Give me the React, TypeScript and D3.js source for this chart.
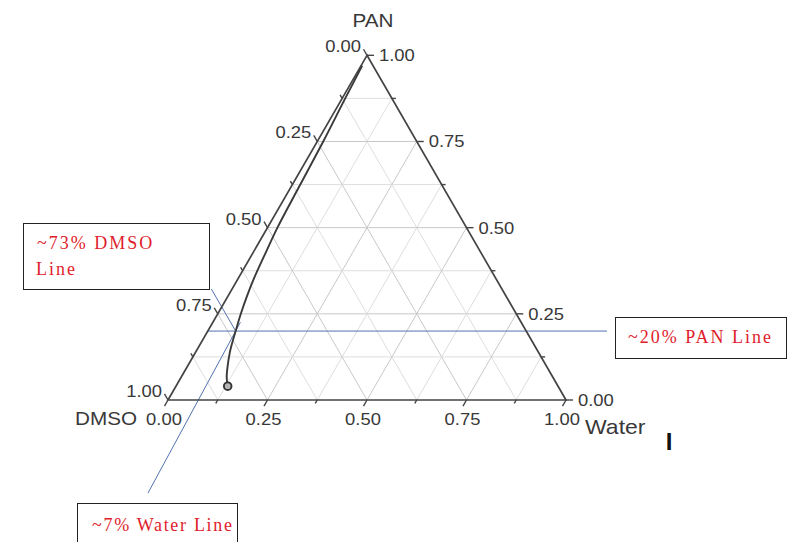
import React from "react";
import * as d3 from "d3";

// ---- data ----
const axisTicks = [0, 0.25, 0.5, 0.75, 1];
const tickLabels = ["0.00", "0.25", "0.50", "0.75", "1.00"];
const minorTicks = [0.125, 0.375, 0.625, 0.875];
const gridSteps = [0.125, 0.25, 0.375, 0.5, 0.625, 0.75, 0.875];

// composition path (PAN fraction, Water fraction); DMSO = 1 - PAN - Water
const curvePan = [0.97, 0.87, 0.75, 0.62, 0.5, 0.435, 0.35, 0.3, 0.25, 0.2, 0.16, 0.136, 0.1, 0.067, 0.04];
const curveWater = [0.003, 0.008, 0.015, 0.02, 0.025, 0.031, 0.04, 0.048, 0.058, 0.07, 0.08, 0.087, 0.1, 0.114, 0.13];

const annotPan = 0.2;
const annotWater = 0.07;
const annotDmso = 0.73;
const annotTexts = ["~73% DMSO", "Line", "~20% PAN Line", "~7% Water Line"];

// ---- layout ----
const W = 788, H = 542;
const X0 = 168, X1 = 566, YB = 400;
const side = X1 - X0;
const YT = YB - side * Math.sqrt(3) / 2;

const xs = d3.scaleLinear().domain([0, 1]).range([X0, X1]);
const ys = d3.scaleLinear().domain([0, 1]).range([YB, YT]);
const P = (pan: number, water: number): [number, number] => [xs(water + pan / 2), ys(pan)];

const AX = "#444";
const LBL = "#383838";
const BLUE = "#5272b0";
const RED = "#e01b2b";
const SX = 1.15;
const SERIF = "Liberation Serif, Times New Roman, serif";

function T({ x, y, s, size, anchor = "start", fill = LBL, weight = 400, sx = SX }: any) {
  return (
    <text transform={`translate(${x},${y}) scale(${sx},1)`} fontSize={size} fontFamily="Liberation Sans, Arial, sans-serif"
      textAnchor={anchor} fill={fill} fontWeight={weight}>{s}</text>
  );
}

export default function App() {
  const grid: JSX.Element[] = [];
  gridSteps.forEach((k, i) => {
    const major = Math.abs((k * 4) - Math.round(k * 4)) < 1e-6;
    const col = major ? "#c8c8c8" : "#dedede";
    const a = P(k, 0), b = P(k, 1 - k);
    grid.push(<line key={`h${i}`} x1={a[0]} y1={a[1]} x2={b[0]} y2={b[1]} stroke={col} strokeWidth={1} />);
    const c = P(0, k), d = P(1 - k, k);
    grid.push(<line key={`w${i}`} x1={c[0]} y1={c[1]} x2={d[0]} y2={d[1]} stroke={col} strokeWidth={1} />);
    const e = P(0, 1 - k), f = P(1 - k, 0);
    grid.push(<line key={`d${i}`} x1={e[0]} y1={e[1]} x2={f[0]} y2={f[1]} stroke={col} strokeWidth={1} />);
  });

  const ticks: JSX.Element[] = [];
  const c60 = 0.5, s60 = Math.sqrt(3) / 2;
  const drawTick = (key: string, p: [number, number], dx: number, dy: number, len: number) => {
    ticks.push(<line key={key} x1={p[0]} y1={p[1]} x2={p[0] + dx * len} y2={p[1] + dy * len} stroke={AX} strokeWidth={1.4} />);
  };
  axisTicks.forEach((v, i) => {
    drawTick(`b${i}`, P(0, v), -c60, s60, 7);
    drawTick(`r${i}`, P(v, 1 - v), 1, 0, 7);
    drawTick(`l${i}`, P(1 - v, 0), -c60, -s60, 7);
  });
  minorTicks.forEach((v, i) => {
    drawTick(`bm${i}`, P(0, v), -c60, s60, 4);
    drawTick(`rm${i}`, P(v, 1 - v), 1, 0, 4);
    drawTick(`lm${i}`, P(1 - v, 0), -c60, -s60, 4);
  });

  const labels: JSX.Element[] = [];
  axisTicks.forEach((v, i) => {
    const b = P(0, v);
    labels.push(<T key={`bl${i}`} x={b[0] - 4} y={b[1] + 25} s={tickLabels[i]} size={16} anchor="middle" />);
    const r = P(v, 1 - v);
    labels.push(<T key={`rl${i}`} x={r[0] + 12} y={r[1] + 6} s={tickLabels[i]} size={16} />);
    const l = P(1 - v, 0);
    labels.push(<T key={`ll${i}`} x={l[0] - 6} y={l[1] - 3} s={tickLabels[i]} size={16} anchor="end" />);
  });

  const pts = curvePan.map((p, i) => P(p, curveWater[i]));
  const lineGen = d3.line().curve(d3.curveCatmullRom.alpha(0.5));
  const endPt = pts[pts.length - 1];

  const tri = [P(1, 0), P(0, 0), P(0, 1)];

  const inter = P(annotPan, annotWater);
  const panStart = P(annotPan, 0);
  const dmsoPanTop = ys.invert(289);
  const dmsoStart = P(dmsoPanTop, 1 - annotDmso - dmsoPanTop);
  const wEnd: [number, number] = [148, 493];
  const wdx = inter[0] - wEnd[0], wdy = inter[1] - wEnd[1];
  const wLen = Math.hypot(wdx, wdy);
  const wTop: [number, number] = [inter[0] + (wdx / wLen) * 10, inter[1] + (wdy / wLen) * 10];

  return (
    <svg width={W} height={H} style={{ position: "absolute", left: 0, top: 0, background: "#fff" }}>
      <rect x={0} y={0} width={W} height={H} fill="#fff" />
      {grid}
      <line x1={panStart[0]} y1={panStart[1]} x2={607} y2={panStart[1]} stroke={BLUE} strokeWidth={1} />
      <line x1={dmsoStart[0]} y1={dmsoStart[1]} x2={inter[0]} y2={inter[1]} stroke={BLUE} strokeWidth={1} />
      <line x1={wEnd[0]} y1={wEnd[1]} x2={wTop[0]} y2={wTop[1]} stroke={BLUE} strokeWidth={1} />
      <polygon points={tri.map((p) => p.join(",")).join(" ")} fill="none" stroke={AX} strokeWidth={1.7} />
      {ticks}
      {labels}
      <path d={lineGen(pts) || ""} fill="none" stroke="#3a3a3a" strokeWidth={1.9} />
      <circle cx={endPt[0]} cy={endPt[1]} r={3.8} fill="#b5b5b5" stroke="#333" strokeWidth={1.9} />
      <T x={373} y={27} s="PAN" size={18} anchor="middle" />
      <T x={75} y={425} s="DMSO" size={18} />
      <T x={585} y={434} s="Water" size={20} />
      <T x={669} y={450} s="I" size={24} fill="#111" weight={700} sx={1} anchor="middle" />
      <rect x={23.5} y={223.5} width={186} height={66} fill="#fff" stroke="#222" strokeWidth={1} />
      <text x={37} y={249} fontSize={18} fontFamily={SERIF} fill={RED} letterSpacing={2}>{annotTexts[0]}</text>
      <text x={36} y={275} fontSize={18} fontFamily={SERIF} fill={RED} letterSpacing={2}>{annotTexts[1]}</text>
      <rect x={615.5} y={317.5} width={171} height={41} fill="#fff" stroke="#222" strokeWidth={1} />
      <text x={628} y={343} fontSize={18} fontFamily={SERIF} fill={RED} letterSpacing={2}>{annotTexts[2]}</text>
      <rect x={77.5} y={503.5} width={160} height={50} fill="#fff" stroke="#222" strokeWidth={1} />
      <text x={92} y={531} fontSize={18} fontFamily={SERIF} fill={RED} letterSpacing={1.7}>{annotTexts[3]}</text>
    </svg>
  );
}
